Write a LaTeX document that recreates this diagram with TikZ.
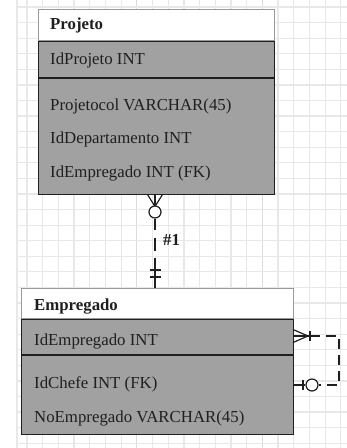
\documentclass[tikz,border=0pt]{standalone}
\usepackage{fontspec}
\setmainfont{Liberation Serif}
\begin{document}
\begin{tikzpicture}[x=1pt,y=-1pt,
  gridline/.style={draw=black!9, line width=1.2pt},
  gridmajor/.style={draw=black!14, line width=1.2pt},
  txt/.style={anchor=base west, inner sep=0pt, text=black!88, font=\fontsize{16.8}{20}\selectfont},
  ttl/.style={txt, font=\fontsize{16.8}{20}\selectfont\bfseries},
  bodybox/.style={fill=black!37, draw=black!88, line width=1.4pt, inner sep=0pt, anchor=north west},
  hdrbox/.style={fill=white, draw=black!40, line width=1.2pt, inner sep=0pt, anchor=north west},
  sep/.style={draw=black!88, line width=1.4pt},
  rel/.style={draw=black!88, line width=1.2pt},
  ring/.style={draw=black!88, line width=1.2pt, fill=white, circle, minimum size=12pt, inner sep=0pt},
]
\useasboundingbox (0,0) rectangle (347,448);
\fill[white] (0,0) rectangle (347,448);
% grid
\foreach \k in {0,...,20} {
  \pgfmathsetmacro{\gx}{27+15.69*\k}
  \draw[gridline] (\gx,0) -- (\gx,448);
}
\foreach \k in {7,15} {
  \pgfmathsetmacro{\gx}{27+15.69*\k}
  \draw[gridmajor] (\gx,0) -- (\gx,448);
}
\draw[gridline] (17,0) -- (17,448);
\foreach \k in {0,...,28} {
  \pgfmathsetmacro{\gy}{7+15.58*\k}
  \draw[gridline] (17,\gy) -- (347,\gy);
}

% Projeto
\node[bodybox, minimum width=236pt, minimum height=185pt] (pj) at (38,9) {};
\node[hdrbox, minimum width=236pt, minimum height=31pt] (pjh) at (38,9) {};
\draw[sep] (pjh.south west) -- (pjh.south east);
\coordinate (pjk) at (38,78);
\draw[sep] (pjk) -- (pjk -| pj.east);
\node[ttl] (pjt) at (50,29) {Projeto};
\node[txt] (pja) at (50,64) {IdProjeto INT};
\node[txt] (pjb) at (50,110) {Projetocol VARCHAR(45)};
\node[txt] (pjc) at (50,143) {IdDepartamento INT};
\node[txt] (pjd) at (50,177) {IdEmpregado INT (FK)};

% Empregado
\node[bodybox, minimum width=272pt, minimum height=146pt] (em) at (21,288) {};
\node[hdrbox, minimum width=272pt, minimum height=30pt] (emh) at (21,288) {};
\draw[sep] (emh.south west) -- (emh.south east);
\coordinate (emk) at (21,355);
\draw[sep] (emk) -- (emk -| em.east);
\node[ttl] (emt) at (34,310) {Empregado};
\node[txt] (ema) at (34,345) {IdEmpregado INT};
\node[txt] (emb) at (34,388) {IdChefe INT (FK)};
\node[txt] (emc) at (34,422) {NoEmpregado VARCHAR(45)};

% relationship Projeto -- Empregado
\coordinate (r0) at (155,194.5);
\coordinate (r1) at (155,288);
\draw[rel] (147.5,194.5) -- (155,206.5) -- (162.5,194.5);
\draw[rel] (r0) -- ++(0,12);
\node[ring] (rc) at (155,212) {};
\draw[rel, dash pattern=on 11pt off 8pt on 13pt off 7pt on 60pt off 0pt] (rc.south) -- (r1);
\draw[rel] (149.5,270) -- (160.5,270);
\draw[rel] (149.5,277) -- (160.5,277);
\node[anchor=base west, inner sep=0pt, text=black!88, font=\fontsize{16.8}{20}\selectfont\bfseries] (lbl) at (163,245) {\#1};

% self relationship
\coordinate (s0) at (293,336);
\coordinate (s1) at (293,385);
\draw[rel] (293,329.5) -- (308,336) -- (293,342.5);
\draw[rel] (s0) -- (310,336);
\draw[rel] (310,331) -- (310,341);
\node[ring] (sc) at (312,385) {};
\draw[rel] (s1) -- (sc.west);
\draw[rel] (303,380) -- (303,390);
\draw[rel, dash pattern=on 10pt off 6pt] (310,336) -- (339,336) -- (339,385) -- (sc.east);
\end{tikzpicture}
\end{document}
